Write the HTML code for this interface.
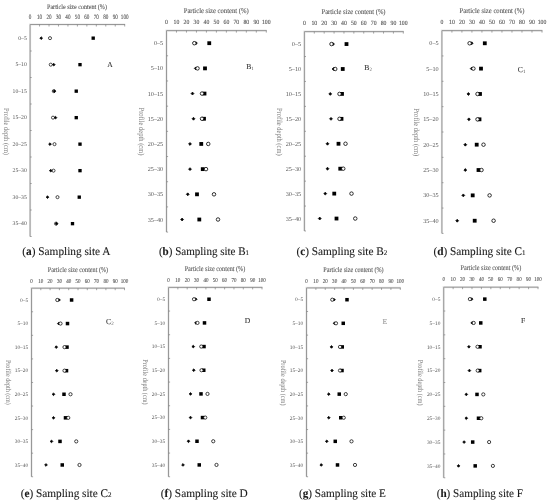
<!DOCTYPE html>
<html><head><meta charset="utf-8"><style>
html,body{margin:0;padding:0;background:#fff;}
svg{display:block;font-family:"Liberation Serif",serif;filter:grayscale(1);text-rendering:geometricPrecision;}
</style></head><body>
<svg width="550" height="504" viewBox="0 0 550 504">
<rect width="550" height="504" fill="#fff"/>
<g>
<g><path d="M30.1 236.5V24.5H125.1" fill="none" stroke="#e8e8e8" stroke-width="2.2"/><path d="M30.1 236.5V24.5H125.1" fill="none" stroke="#989898" stroke-width="1"/><path d="M39.56 24.5v2 M49.02 24.5v2 M58.48 24.5v2 M67.94 24.5v2 M77.4 24.5v2 M86.86 24.5v2 M96.32 24.5v2 M105.78 24.5v2 M115.24 24.5v2 M124.7 24.5v2 M30.1 51h1.6 M30.1 77.5h1.6 M30.1 104h1.6 M30.1 130.5h1.6 M30.1 157h1.6 M30.1 183.5h1.6 M30.1 210h1.6 M30.1 236.5h1.6" stroke="#808080" stroke-width="0.7"/><text transform="translate(30.1 19.08) scale(0.78 1)" font-size="6.6" text-anchor="middle" fill="#555" stroke="#555" stroke-width="0.12">0</text><text transform="translate(39.56 19.08) scale(0.78 1)" font-size="6.6" text-anchor="middle" fill="#555" stroke="#555" stroke-width="0.12">10</text><text transform="translate(49.02 19.08) scale(0.78 1)" font-size="6.6" text-anchor="middle" fill="#555" stroke="#555" stroke-width="0.12">20</text><text transform="translate(58.48 19.08) scale(0.78 1)" font-size="6.6" text-anchor="middle" fill="#555" stroke="#555" stroke-width="0.12">30</text><text transform="translate(67.94 19.08) scale(0.78 1)" font-size="6.6" text-anchor="middle" fill="#555" stroke="#555" stroke-width="0.12">40</text><text transform="translate(77.4 19.08) scale(0.78 1)" font-size="6.6" text-anchor="middle" fill="#555" stroke="#555" stroke-width="0.12">50</text><text transform="translate(86.86 19.08) scale(0.78 1)" font-size="6.6" text-anchor="middle" fill="#555" stroke="#555" stroke-width="0.12">60</text><text transform="translate(96.32 19.08) scale(0.78 1)" font-size="6.6" text-anchor="middle" fill="#555" stroke="#555" stroke-width="0.12">70</text><text transform="translate(105.78 19.08) scale(0.78 1)" font-size="6.6" text-anchor="middle" fill="#555" stroke="#555" stroke-width="0.12">80</text><text transform="translate(115.24 19.08) scale(0.78 1)" font-size="6.6" text-anchor="middle" fill="#555" stroke="#555" stroke-width="0.12">90</text><text transform="translate(124.7 19.08) scale(0.78 1)" font-size="6.6" text-anchor="middle" fill="#555" stroke="#555" stroke-width="0.12">100</text><text x="77" y="8.87" font-size="6.9" text-anchor="middle" fill="#555" stroke="#555" stroke-width="0.1" textLength="60" lengthAdjust="spacingAndGlyphs">Particle size content (%)</text><text x="26.8" y="39.63" font-size="5.7" text-anchor="end" fill="#555">0–5</text><text x="26.8" y="66.13" font-size="5.7" text-anchor="end" fill="#555">5–10</text><text x="26.8" y="92.63" font-size="5.7" text-anchor="end" fill="#555">10–15</text><text x="26.8" y="119.13" font-size="5.7" text-anchor="end" fill="#555">15–20</text><text x="26.8" y="145.63" font-size="5.7" text-anchor="end" fill="#555">20–25</text><text x="26.8" y="172.13" font-size="5.7" text-anchor="end" fill="#555">25–30</text><text x="26.8" y="198.63" font-size="5.7" text-anchor="end" fill="#555">30–35</text><text x="26.8" y="225.13" font-size="5.7" text-anchor="end" fill="#555">35–40</text><text transform="translate(4.44 131.5) rotate(90)" font-size="7.69" text-anchor="middle" fill="#777" textLength="47" lengthAdjust="spacingAndGlyphs">Profile depth (cm)</text><text x="109.9" y="67.26" font-size="7.6" text-anchor="middle" fill="#333" stroke="#333" stroke-width="0.1">A</text><rect x="91.53" y="36.48" width="3.34" height="3.34" fill="#000"/><rect x="78.33" y="62.98" width="3.34" height="3.34" fill="#000"/><rect x="74.58" y="89.48" width="3.34" height="3.34" fill="#000"/><rect x="74.58" y="115.98" width="3.34" height="3.34" fill="#000"/><rect x="78.33" y="142.48" width="3.34" height="3.34" fill="#000"/><rect x="78.33" y="168.98" width="3.34" height="3.34" fill="#000"/><rect x="77.58" y="195.48" width="3.34" height="3.34" fill="#000"/><rect x="70.83" y="221.98" width="3.34" height="3.34" fill="#000"/><circle cx="50" cy="38.15" r="1.54" fill="#fff" stroke="#000" stroke-width="0.7"/><circle cx="50.75" cy="64.65" r="1.54" fill="#fff" stroke="#000" stroke-width="0.7"/><circle cx="53.8" cy="91.15" r="1.54" fill="#fff" stroke="#000" stroke-width="0.7"/><circle cx="53" cy="117.65" r="1.54" fill="#fff" stroke="#000" stroke-width="0.7"/><circle cx="54.5" cy="144.15" r="1.54" fill="#fff" stroke="#000" stroke-width="0.7"/><circle cx="53.5" cy="170.65" r="1.54" fill="#fff" stroke="#000" stroke-width="0.7"/><circle cx="57.5" cy="197.15" r="1.54" fill="#fff" stroke="#000" stroke-width="0.7"/><circle cx="56" cy="223.65" r="1.54" fill="#fff" stroke="#000" stroke-width="0.7"/><path d="M41.2 36.77l1.38 1.38l-1.38 1.38l-1.38-1.38z" fill="#000" stroke="#000" stroke-width="0.7" stroke-linejoin="round"/><path d="M53.75 63.27l1.38 1.38l-1.38 1.38l-1.38-1.38z" fill="#000" stroke="#000" stroke-width="0.7" stroke-linejoin="round"/><path d="M54.4 89.77l1.38 1.38l-1.38 1.38l-1.38-1.38z" fill="#000" stroke="#000" stroke-width="0.7" stroke-linejoin="round"/><path d="M55.5 116.27l1.38 1.38l-1.38 1.38l-1.38-1.38z" fill="#000" stroke="#000" stroke-width="0.7" stroke-linejoin="round"/><path d="M50 142.77l1.38 1.38l-1.38 1.38l-1.38-1.38z" fill="#000" stroke="#000" stroke-width="0.7" stroke-linejoin="round"/><path d="M50.75 169.27l1.38 1.38l-1.38 1.38l-1.38-1.38z" fill="#000" stroke="#000" stroke-width="0.7" stroke-linejoin="round"/><path d="M47.5 195.77l1.38 1.38l-1.38 1.38l-1.38-1.38z" fill="#000" stroke="#000" stroke-width="0.7" stroke-linejoin="round"/><path d="M56.5 222.27l1.38 1.38l-1.38 1.38l-1.38-1.38z" fill="#000" stroke="#000" stroke-width="0.7" stroke-linejoin="round"/><text x="22.3" y="255.3" font-size="11.6" fill="#1a1a1a" stroke="#1a1a1a" stroke-width="0.1" textLength="88.2" lengthAdjust="spacingAndGlyphs">(<tspan font-weight="bold">a</tspan>) Sampling site A</text></g>
<g><path d="M166.5 232.1V30.6H266.7" fill="none" stroke="#e8e8e8" stroke-width="2.2"/><path d="M166.5 232.1V30.6H266.7" fill="none" stroke="#989898" stroke-width="1"/><path d="M176.48 30.6v2 M186.46 30.6v2 M196.44 30.6v2 M206.42 30.6v2 M216.4 30.6v2 M226.38 30.6v2 M236.36 30.6v2 M246.34 30.6v2 M256.32 30.6v2 M266.3 30.6v2 M166.5 55.79h1.6 M166.5 80.97h1.6 M166.5 106.16h1.6 M166.5 131.35h1.6 M166.5 156.54h1.6 M166.5 181.72h1.6 M166.5 206.91h1.6 M166.5 232.1h1.6" stroke="#808080" stroke-width="0.7"/><text transform="translate(166.5 24.11) scale(0.9 1)" font-size="6.4" text-anchor="middle" fill="#555" stroke="#555" stroke-width="0.12">0</text><text transform="translate(176.48 24.11) scale(0.9 1)" font-size="6.4" text-anchor="middle" fill="#555" stroke="#555" stroke-width="0.12">10</text><text transform="translate(186.46 24.11) scale(0.9 1)" font-size="6.4" text-anchor="middle" fill="#555" stroke="#555" stroke-width="0.12">20</text><text transform="translate(196.44 24.11) scale(0.9 1)" font-size="6.4" text-anchor="middle" fill="#555" stroke="#555" stroke-width="0.12">30</text><text transform="translate(206.42 24.11) scale(0.9 1)" font-size="6.4" text-anchor="middle" fill="#555" stroke="#555" stroke-width="0.12">40</text><text transform="translate(216.4 24.11) scale(0.9 1)" font-size="6.4" text-anchor="middle" fill="#555" stroke="#555" stroke-width="0.12">50</text><text transform="translate(226.38 24.11) scale(0.9 1)" font-size="6.4" text-anchor="middle" fill="#555" stroke="#555" stroke-width="0.12">60</text><text transform="translate(236.36 24.11) scale(0.9 1)" font-size="6.4" text-anchor="middle" fill="#555" stroke="#555" stroke-width="0.12">70</text><text transform="translate(246.34 24.11) scale(0.9 1)" font-size="6.4" text-anchor="middle" fill="#555" stroke="#555" stroke-width="0.12">80</text><text transform="translate(256.32 24.11) scale(0.9 1)" font-size="6.4" text-anchor="middle" fill="#555" stroke="#555" stroke-width="0.12">90</text><text transform="translate(266.3 24.11) scale(0.9 1)" font-size="6.4" text-anchor="middle" fill="#555" stroke="#555" stroke-width="0.12">100</text><text x="216.2" y="12.89" font-size="7.3" text-anchor="middle" fill="#555" stroke="#555" stroke-width="0.1" textLength="65" lengthAdjust="spacingAndGlyphs">Particle size content (%)</text><text x="163.2" y="45.24" font-size="6.2" text-anchor="end" fill="#555">0–5</text><text x="163.2" y="70.43" font-size="6.2" text-anchor="end" fill="#555">5–10</text><text x="163.2" y="95.61" font-size="6.2" text-anchor="end" fill="#555">10–15</text><text x="163.2" y="120.8" font-size="6.2" text-anchor="end" fill="#555">15–20</text><text x="163.2" y="145.99" font-size="6.2" text-anchor="end" fill="#555">20–25</text><text x="163.2" y="171.18" font-size="6.2" text-anchor="end" fill="#555">25–30</text><text x="163.2" y="196.36" font-size="6.2" text-anchor="end" fill="#555">30–35</text><text x="163.2" y="221.55" font-size="6.2" text-anchor="end" fill="#555">35–40</text><text transform="translate(138.84 131.5) rotate(90)" font-size="7.86" text-anchor="middle" fill="#777" textLength="48" lengthAdjust="spacingAndGlyphs">Profile depth (cm)</text><text x="248.7" y="68.86" font-size="7.6" text-anchor="middle" fill="#333" stroke="#333" stroke-width="0.1">B</text><text x="251.3" y="69.81" font-size="5" fill="#555">1</text><rect x="207.35" y="41.29" width="3.8" height="3.8" fill="#000"/><rect x="203.1" y="66.48" width="3.8" height="3.8" fill="#000"/><rect x="202.6" y="91.67" width="3.8" height="3.8" fill="#000"/><rect x="202.1" y="116.86" width="3.8" height="3.8" fill="#000"/><rect x="199.35" y="142.04" width="3.8" height="3.8" fill="#000"/><rect x="200.85" y="167.23" width="3.8" height="3.8" fill="#000"/><rect x="195.1" y="192.42" width="3.8" height="3.8" fill="#000"/><rect x="197.4" y="217.61" width="3.8" height="3.8" fill="#000"/><path d="M195.9 41.74l1.45 1.45l-1.45 1.45l-1.45-1.45z" fill="#000" stroke="#000" stroke-width="0.7" stroke-linejoin="round"/><path d="M195.75 66.93l1.45 1.45l-1.45 1.45l-1.45-1.45z" fill="#000" stroke="#000" stroke-width="0.7" stroke-linejoin="round"/><path d="M192.5 92.12l1.45 1.45l-1.45 1.45l-1.45-1.45z" fill="#000" stroke="#000" stroke-width="0.7" stroke-linejoin="round"/><path d="M193.5 117.31l1.45 1.45l-1.45 1.45l-1.45-1.45z" fill="#000" stroke="#000" stroke-width="0.7" stroke-linejoin="round"/><path d="M190 142.49l1.45 1.45l-1.45 1.45l-1.45-1.45z" fill="#000" stroke="#000" stroke-width="0.7" stroke-linejoin="round"/><path d="M190 167.68l1.45 1.45l-1.45 1.45l-1.45-1.45z" fill="#000" stroke="#000" stroke-width="0.7" stroke-linejoin="round"/><path d="M187.75 192.87l1.45 1.45l-1.45 1.45l-1.45-1.45z" fill="#000" stroke="#000" stroke-width="0.7" stroke-linejoin="round"/><path d="M182.1 218.06l1.45 1.45l-1.45 1.45l-1.45-1.45z" fill="#000" stroke="#000" stroke-width="0.7" stroke-linejoin="round"/><circle cx="194.3" cy="43.19" r="1.75" fill="#fff" stroke="#000" stroke-width="0.8"/><circle cx="197.5" cy="68.38" r="1.75" fill="#fff" stroke="#000" stroke-width="0.8"/><circle cx="202" cy="93.57" r="1.75" fill="#fff" stroke="#000" stroke-width="0.8"/><circle cx="202" cy="118.76" r="1.75" fill="#fff" stroke="#000" stroke-width="0.8"/><circle cx="208.25" cy="143.94" r="1.75" fill="#fff" stroke="#000" stroke-width="0.8"/><circle cx="206" cy="169.13" r="1.75" fill="#fff" stroke="#000" stroke-width="0.8"/><circle cx="214" cy="194.32" r="1.75" fill="#fff" stroke="#000" stroke-width="0.8"/><circle cx="218" cy="219.51" r="1.75" fill="#fff" stroke="#000" stroke-width="0.8"/><text x="158.9" y="255.3" font-size="11.6" fill="#1a1a1a" stroke="#1a1a1a" stroke-width="0.1" textLength="90.1" lengthAdjust="spacingAndGlyphs">(<tspan font-weight="bold">b</tspan>) Sampling site B<tspan font-size="7.19">1</tspan></text></g>
<g><path d="M304.4 231V31.6H403.7" fill="none" stroke="#e8e8e8" stroke-width="2.2"/><path d="M304.4 231V31.6H403.7" fill="none" stroke="#989898" stroke-width="1"/><path d="M314.29 31.6v2 M324.18 31.6v2 M334.07 31.6v2 M343.96 31.6v2 M353.85 31.6v2 M363.74 31.6v2 M373.63 31.6v2 M383.52 31.6v2 M393.41 31.6v2 M403.3 31.6v2 M304.4 56.53h1.6 M304.4 81.45h1.6 M304.4 106.38h1.6 M304.4 131.3h1.6 M304.4 156.22h1.6 M304.4 181.15h1.6 M304.4 206.07h1.6 M304.4 231h1.6" stroke="#808080" stroke-width="0.7"/><text transform="translate(304.4 25.31) scale(0.9 1)" font-size="6.4" text-anchor="middle" fill="#555" stroke="#555" stroke-width="0.12">0</text><text transform="translate(314.29 25.31) scale(0.9 1)" font-size="6.4" text-anchor="middle" fill="#555" stroke="#555" stroke-width="0.12">10</text><text transform="translate(324.18 25.31) scale(0.9 1)" font-size="6.4" text-anchor="middle" fill="#555" stroke="#555" stroke-width="0.12">20</text><text transform="translate(334.07 25.31) scale(0.9 1)" font-size="6.4" text-anchor="middle" fill="#555" stroke="#555" stroke-width="0.12">30</text><text transform="translate(343.96 25.31) scale(0.9 1)" font-size="6.4" text-anchor="middle" fill="#555" stroke="#555" stroke-width="0.12">40</text><text transform="translate(353.85 25.31) scale(0.9 1)" font-size="6.4" text-anchor="middle" fill="#555" stroke="#555" stroke-width="0.12">50</text><text transform="translate(363.74 25.31) scale(0.9 1)" font-size="6.4" text-anchor="middle" fill="#555" stroke="#555" stroke-width="0.12">60</text><text transform="translate(373.63 25.31) scale(0.9 1)" font-size="6.4" text-anchor="middle" fill="#555" stroke="#555" stroke-width="0.12">70</text><text transform="translate(383.52 25.31) scale(0.9 1)" font-size="6.4" text-anchor="middle" fill="#555" stroke="#555" stroke-width="0.12">80</text><text transform="translate(393.41 25.31) scale(0.9 1)" font-size="6.4" text-anchor="middle" fill="#555" stroke="#555" stroke-width="0.12">90</text><text transform="translate(403.3 25.31) scale(0.9 1)" font-size="6.4" text-anchor="middle" fill="#555" stroke="#555" stroke-width="0.12">100</text><text x="353.5" y="14.09" font-size="7.3" text-anchor="middle" fill="#555" stroke="#555" stroke-width="0.1" textLength="64" lengthAdjust="spacingAndGlyphs">Particle size content (%)</text><text x="301.1" y="46.11" font-size="6.2" text-anchor="end" fill="#555">0–5</text><text x="301.1" y="71.03" font-size="6.2" text-anchor="end" fill="#555">5–10</text><text x="301.1" y="95.96" font-size="6.2" text-anchor="end" fill="#555">10–15</text><text x="301.1" y="120.88" font-size="6.2" text-anchor="end" fill="#555">15–20</text><text x="301.1" y="145.81" font-size="6.2" text-anchor="end" fill="#555">20–25</text><text x="301.1" y="170.73" font-size="6.2" text-anchor="end" fill="#555">25–30</text><text x="301.1" y="195.66" font-size="6.2" text-anchor="end" fill="#555">30–35</text><text x="301.1" y="220.58" font-size="6.2" text-anchor="end" fill="#555">35–40</text><text transform="translate(277.16 131.8) rotate(90)" font-size="7.79" text-anchor="middle" fill="#777" textLength="47.6" lengthAdjust="spacingAndGlyphs">Profile depth (cm)</text><text x="366.8" y="70.46" font-size="7.6" text-anchor="middle" fill="#333" stroke="#333" stroke-width="0.1">B</text><text x="369.4" y="71.41" font-size="5" fill="#555">2</text><rect x="344.6" y="42.16" width="3.8" height="3.8" fill="#000"/><rect x="340.85" y="67.09" width="3.8" height="3.8" fill="#000"/><rect x="340.1" y="92.01" width="3.8" height="3.8" fill="#000"/><rect x="339.6" y="116.94" width="3.8" height="3.8" fill="#000"/><rect x="336.6" y="141.86" width="3.8" height="3.8" fill="#000"/><rect x="338.35" y="166.79" width="3.8" height="3.8" fill="#000"/><rect x="332.35" y="191.71" width="3.8" height="3.8" fill="#000"/><rect x="334.6" y="216.64" width="3.8" height="3.8" fill="#000"/><path d="M333 42.61l1.45 1.45l-1.45 1.45l-1.45-1.45z" fill="#000" stroke="#000" stroke-width="0.7" stroke-linejoin="round"/><path d="M333.5 67.54l1.45 1.45l-1.45 1.45l-1.45-1.45z" fill="#000" stroke="#000" stroke-width="0.7" stroke-linejoin="round"/><path d="M330.25 92.46l1.45 1.45l-1.45 1.45l-1.45-1.45z" fill="#000" stroke="#000" stroke-width="0.7" stroke-linejoin="round"/><path d="M331 117.39l1.45 1.45l-1.45 1.45l-1.45-1.45z" fill="#000" stroke="#000" stroke-width="0.7" stroke-linejoin="round"/><path d="M327.5 142.31l1.45 1.45l-1.45 1.45l-1.45-1.45z" fill="#000" stroke="#000" stroke-width="0.7" stroke-linejoin="round"/><path d="M327.5 167.24l1.45 1.45l-1.45 1.45l-1.45-1.45z" fill="#000" stroke="#000" stroke-width="0.7" stroke-linejoin="round"/><path d="M325.25 192.16l1.45 1.45l-1.45 1.45l-1.45-1.45z" fill="#000" stroke="#000" stroke-width="0.7" stroke-linejoin="round"/><path d="M319.75 217.09l1.45 1.45l-1.45 1.45l-1.45-1.45z" fill="#000" stroke="#000" stroke-width="0.7" stroke-linejoin="round"/><circle cx="331.5" cy="44.06" r="1.75" fill="#fff" stroke="#000" stroke-width="0.8"/><circle cx="335.25" cy="68.99" r="1.75" fill="#fff" stroke="#000" stroke-width="0.8"/><circle cx="339.5" cy="93.91" r="1.75" fill="#fff" stroke="#000" stroke-width="0.8"/><circle cx="339.5" cy="118.84" r="1.75" fill="#fff" stroke="#000" stroke-width="0.8"/><circle cx="345.5" cy="143.76" r="1.75" fill="#fff" stroke="#000" stroke-width="0.8"/><circle cx="343.25" cy="168.69" r="1.75" fill="#fff" stroke="#000" stroke-width="0.8"/><circle cx="351.5" cy="193.61" r="1.75" fill="#fff" stroke="#000" stroke-width="0.8"/><circle cx="355.25" cy="218.54" r="1.75" fill="#fff" stroke="#000" stroke-width="0.8"/><text x="296.4" y="255.3" font-size="11.6" fill="#1a1a1a" stroke="#1a1a1a" stroke-width="0.1" textLength="90.9" lengthAdjust="spacingAndGlyphs">(<tspan font-weight="bold">c</tspan>) Sampling site B<tspan font-size="7.19">2</tspan></text></g>
<g><path d="M441.9 233.4V30.6H542.4" fill="none" stroke="#e8e8e8" stroke-width="2.2"/><path d="M441.9 233.4V30.6H542.4" fill="none" stroke="#989898" stroke-width="1"/><path d="M451.91 30.6v2 M461.92 30.6v2 M471.93 30.6v2 M481.94 30.6v2 M491.95 30.6v2 M501.96 30.6v2 M511.97 30.6v2 M521.98 30.6v2 M531.99 30.6v2 M542 30.6v2 M441.9 55.95h1.6 M441.9 81.3h1.6 M441.9 106.65h1.6 M441.9 132h1.6 M441.9 157.35h1.6 M441.9 182.7h1.6 M441.9 208.05h1.6 M441.9 233.4h1.6" stroke="#808080" stroke-width="0.7"/><text transform="translate(441.9 24.11) scale(0.9 1)" font-size="6.4" text-anchor="middle" fill="#555" stroke="#555" stroke-width="0.12">0</text><text transform="translate(451.91 24.11) scale(0.9 1)" font-size="6.4" text-anchor="middle" fill="#555" stroke="#555" stroke-width="0.12">10</text><text transform="translate(461.92 24.11) scale(0.9 1)" font-size="6.4" text-anchor="middle" fill="#555" stroke="#555" stroke-width="0.12">20</text><text transform="translate(471.93 24.11) scale(0.9 1)" font-size="6.4" text-anchor="middle" fill="#555" stroke="#555" stroke-width="0.12">30</text><text transform="translate(481.94 24.11) scale(0.9 1)" font-size="6.4" text-anchor="middle" fill="#555" stroke="#555" stroke-width="0.12">40</text><text transform="translate(491.95 24.11) scale(0.9 1)" font-size="6.4" text-anchor="middle" fill="#555" stroke="#555" stroke-width="0.12">50</text><text transform="translate(501.96 24.11) scale(0.9 1)" font-size="6.4" text-anchor="middle" fill="#555" stroke="#555" stroke-width="0.12">60</text><text transform="translate(511.97 24.11) scale(0.9 1)" font-size="6.4" text-anchor="middle" fill="#555" stroke="#555" stroke-width="0.12">70</text><text transform="translate(521.98 24.11) scale(0.9 1)" font-size="6.4" text-anchor="middle" fill="#555" stroke="#555" stroke-width="0.12">80</text><text transform="translate(531.99 24.11) scale(0.9 1)" font-size="6.4" text-anchor="middle" fill="#555" stroke="#555" stroke-width="0.12">90</text><text transform="translate(542 24.11) scale(0.9 1)" font-size="6.4" text-anchor="middle" fill="#555" stroke="#555" stroke-width="0.12">100</text><text x="492" y="12.89" font-size="7.3" text-anchor="middle" fill="#555" stroke="#555" stroke-width="0.1" textLength="65" lengthAdjust="spacingAndGlyphs">Particle size content (%)</text><text x="438.6" y="45.32" font-size="6.2" text-anchor="end" fill="#555">0–5</text><text x="438.6" y="70.67" font-size="6.2" text-anchor="end" fill="#555">5–10</text><text x="438.6" y="96.02" font-size="6.2" text-anchor="end" fill="#555">10–15</text><text x="438.6" y="121.37" font-size="6.2" text-anchor="end" fill="#555">15–20</text><text x="438.6" y="146.72" font-size="6.2" text-anchor="end" fill="#555">20–25</text><text x="438.6" y="172.07" font-size="6.2" text-anchor="end" fill="#555">25–30</text><text x="438.6" y="197.42" font-size="6.2" text-anchor="end" fill="#555">30–35</text><text x="438.6" y="222.77" font-size="6.2" text-anchor="end" fill="#555">35–40</text><text transform="translate(414.24 132.3) rotate(90)" font-size="7.86" text-anchor="middle" fill="#777" textLength="48" lengthAdjust="spacingAndGlyphs">Profile depth (cm)</text><text x="520.3" y="72.26" font-size="7.6" text-anchor="middle" fill="#333" stroke="#333" stroke-width="0.1">C</text><text x="522.9" y="73.21" font-size="5" fill="#555">1</text><rect x="482.9" y="41.38" width="3.8" height="3.8" fill="#000"/><rect x="479.1" y="66.72" width="3.8" height="3.8" fill="#000"/><rect x="478.1" y="92.07" width="3.8" height="3.8" fill="#000"/><rect x="477.6" y="117.43" width="3.8" height="3.8" fill="#000"/><rect x="474.8" y="142.78" width="3.8" height="3.8" fill="#000"/><rect x="476.6" y="168.12" width="3.8" height="3.8" fill="#000"/><rect x="470.8" y="193.47" width="3.8" height="3.8" fill="#000"/><rect x="472.8" y="218.82" width="3.8" height="3.8" fill="#000"/><path d="M471.7 41.83l1.45 1.45l-1.45 1.45l-1.45-1.45z" fill="#000" stroke="#000" stroke-width="0.7" stroke-linejoin="round"/><path d="M471.7 67.17l1.45 1.45l-1.45 1.45l-1.45-1.45z" fill="#000" stroke="#000" stroke-width="0.7" stroke-linejoin="round"/><path d="M468.4 92.52l1.45 1.45l-1.45 1.45l-1.45-1.45z" fill="#000" stroke="#000" stroke-width="0.7" stroke-linejoin="round"/><path d="M468.9 117.88l1.45 1.45l-1.45 1.45l-1.45-1.45z" fill="#000" stroke="#000" stroke-width="0.7" stroke-linejoin="round"/><path d="M465.3 143.23l1.45 1.45l-1.45 1.45l-1.45-1.45z" fill="#000" stroke="#000" stroke-width="0.7" stroke-linejoin="round"/><path d="M465.3 168.58l1.45 1.45l-1.45 1.45l-1.45-1.45z" fill="#000" stroke="#000" stroke-width="0.7" stroke-linejoin="round"/><path d="M463.3 193.93l1.45 1.45l-1.45 1.45l-1.45-1.45z" fill="#000" stroke="#000" stroke-width="0.7" stroke-linejoin="round"/><path d="M457.2 219.28l1.45 1.45l-1.45 1.45l-1.45-1.45z" fill="#000" stroke="#000" stroke-width="0.7" stroke-linejoin="round"/><circle cx="469.6" cy="43.28" r="1.75" fill="#fff" stroke="#000" stroke-width="0.8"/><circle cx="473.4" cy="68.62" r="1.75" fill="#fff" stroke="#000" stroke-width="0.8"/><circle cx="477.5" cy="93.97" r="1.75" fill="#fff" stroke="#000" stroke-width="0.8"/><circle cx="477.5" cy="119.33" r="1.75" fill="#fff" stroke="#000" stroke-width="0.8"/><circle cx="483.5" cy="144.68" r="1.75" fill="#fff" stroke="#000" stroke-width="0.8"/><circle cx="481.5" cy="170.03" r="1.75" fill="#fff" stroke="#000" stroke-width="0.8"/><circle cx="489.6" cy="195.38" r="1.75" fill="#fff" stroke="#000" stroke-width="0.8"/><circle cx="493.6" cy="220.72" r="1.75" fill="#fff" stroke="#000" stroke-width="0.8"/><text x="433.4" y="255.3" font-size="11.6" fill="#1a1a1a" stroke="#1a1a1a" stroke-width="0.1" textLength="92.2" lengthAdjust="spacingAndGlyphs">(<tspan font-weight="bold">d</tspan>) Sampling site C<tspan font-size="7.19">1</tspan></text></g>
<g><path d="M31.5 476.75V288.2H124.9" fill="none" stroke="#e8e8e8" stroke-width="2.2"/><path d="M31.5 476.75V288.2H124.9" fill="none" stroke="#989898" stroke-width="1"/><path d="M40.8 288.2v2 M50.1 288.2v2 M59.4 288.2v2 M68.7 288.2v2 M78 288.2v2 M87.3 288.2v2 M96.6 288.2v2 M105.9 288.2v2 M115.2 288.2v2 M124.5 288.2v2 M31.5 311.77h1.6 M31.5 335.34h1.6 M31.5 358.91h1.6 M31.5 382.48h1.6 M31.5 406.04h1.6 M31.5 429.61h1.6 M31.5 453.18h1.6 M31.5 476.75h1.6" stroke="#808080" stroke-width="0.7"/><text transform="translate(31.5 282.98) scale(0.84 1)" font-size="6" text-anchor="middle" fill="#555" stroke="#555" stroke-width="0.12">0</text><text transform="translate(40.8 282.98) scale(0.84 1)" font-size="6" text-anchor="middle" fill="#555" stroke="#555" stroke-width="0.12">10</text><text transform="translate(50.1 282.98) scale(0.84 1)" font-size="6" text-anchor="middle" fill="#555" stroke="#555" stroke-width="0.12">20</text><text transform="translate(59.4 282.98) scale(0.84 1)" font-size="6" text-anchor="middle" fill="#555" stroke="#555" stroke-width="0.12">30</text><text transform="translate(68.7 282.98) scale(0.84 1)" font-size="6" text-anchor="middle" fill="#555" stroke="#555" stroke-width="0.12">40</text><text transform="translate(78 282.98) scale(0.84 1)" font-size="6" text-anchor="middle" fill="#555" stroke="#555" stroke-width="0.12">50</text><text transform="translate(87.3 282.98) scale(0.84 1)" font-size="6" text-anchor="middle" fill="#555" stroke="#555" stroke-width="0.12">60</text><text transform="translate(96.6 282.98) scale(0.84 1)" font-size="6" text-anchor="middle" fill="#555" stroke="#555" stroke-width="0.12">70</text><text transform="translate(105.9 282.98) scale(0.84 1)" font-size="6" text-anchor="middle" fill="#555" stroke="#555" stroke-width="0.12">80</text><text transform="translate(115.2 282.98) scale(0.84 1)" font-size="6" text-anchor="middle" fill="#555" stroke="#555" stroke-width="0.12">90</text><text transform="translate(124.5 282.98) scale(0.84 1)" font-size="6" text-anchor="middle" fill="#555" stroke="#555" stroke-width="0.12">100</text><text x="78" y="271.89" font-size="7.3" text-anchor="middle" fill="#555" stroke="#555" stroke-width="0.1" textLength="60.3" lengthAdjust="spacingAndGlyphs">Particle size content (%)</text><text x="28.2" y="301.77" font-size="5.4" text-anchor="end" fill="#555">0–5</text><text x="28.2" y="325.34" font-size="5.4" text-anchor="end" fill="#555">5–10</text><text x="28.2" y="348.9" font-size="5.4" text-anchor="end" fill="#555">10–15</text><text x="28.2" y="372.47" font-size="5.4" text-anchor="end" fill="#555">15–20</text><text x="28.2" y="396.04" font-size="5.4" text-anchor="end" fill="#555">20–25</text><text x="28.2" y="419.61" font-size="5.4" text-anchor="end" fill="#555">25–30</text><text x="28.2" y="443.18" font-size="5.4" text-anchor="end" fill="#555">30–35</text><text x="28.2" y="466.75" font-size="5.4" text-anchor="end" fill="#555">35–40</text><text transform="translate(6.09 382.4) rotate(90)" font-size="7.37" text-anchor="middle" fill="#777" textLength="45" lengthAdjust="spacingAndGlyphs">Profile depth (cm)</text><text x="108.6" y="324.16" font-size="7.6" text-anchor="middle" fill="#333" stroke="#333" stroke-width="0.1">C</text><text x="111.2" y="325.11" font-size="5" fill="#555">2</text><rect x="69.85" y="298.24" width="3.5" height="3.5" fill="#000"/><rect x="65.75" y="321.81" width="3.5" height="3.5" fill="#000"/><rect x="65.25" y="345.37" width="3.5" height="3.5" fill="#000"/><rect x="64.75" y="368.94" width="3.5" height="3.5" fill="#000"/><rect x="62.25" y="392.51" width="3.5" height="3.5" fill="#000"/><rect x="63.75" y="416.08" width="3.5" height="3.5" fill="#000"/><rect x="58.25" y="439.65" width="3.5" height="3.5" fill="#000"/><rect x="60.5" y="463.22" width="3.5" height="3.5" fill="#000"/><path d="M59 298.61l1.38 1.38l-1.38 1.38l-1.38-1.38z" fill="#000" stroke="#000" stroke-width="0.7" stroke-linejoin="round"/><path d="M58.75 322.18l1.38 1.38l-1.38 1.38l-1.38-1.38z" fill="#000" stroke="#000" stroke-width="0.7" stroke-linejoin="round"/><path d="M56.25 345.74l1.38 1.38l-1.38 1.38l-1.38-1.38z" fill="#000" stroke="#000" stroke-width="0.7" stroke-linejoin="round"/><path d="M56.75 369.31l1.38 1.38l-1.38 1.38l-1.38-1.38z" fill="#000" stroke="#000" stroke-width="0.7" stroke-linejoin="round"/><path d="M53.5 392.88l1.38 1.38l-1.38 1.38l-1.38-1.38z" fill="#000" stroke="#000" stroke-width="0.7" stroke-linejoin="round"/><path d="M53.5 416.45l1.38 1.38l-1.38 1.38l-1.38-1.38z" fill="#000" stroke="#000" stroke-width="0.7" stroke-linejoin="round"/><path d="M51.5 440.02l1.38 1.38l-1.38 1.38l-1.38-1.38z" fill="#000" stroke="#000" stroke-width="0.7" stroke-linejoin="round"/><path d="M46 463.59l1.38 1.38l-1.38 1.38l-1.38-1.38z" fill="#000" stroke="#000" stroke-width="0.7" stroke-linejoin="round"/><circle cx="57.3" cy="299.98" r="1.61" fill="#fff" stroke="#000" stroke-width="0.74"/><circle cx="60.5" cy="323.55" r="1.61" fill="#fff" stroke="#000" stroke-width="0.74"/><circle cx="64.5" cy="347.12" r="1.61" fill="#fff" stroke="#000" stroke-width="0.74"/><circle cx="64.5" cy="370.69" r="1.61" fill="#fff" stroke="#000" stroke-width="0.74"/><circle cx="70.5" cy="394.26" r="1.61" fill="#fff" stroke="#000" stroke-width="0.74"/><circle cx="68.25" cy="417.83" r="1.61" fill="#fff" stroke="#000" stroke-width="0.74"/><circle cx="76.25" cy="441.4" r="1.61" fill="#fff" stroke="#000" stroke-width="0.74"/><circle cx="79.5" cy="464.97" r="1.61" fill="#fff" stroke="#000" stroke-width="0.74"/><text x="20.7" y="497.3" font-size="11.6" fill="#1a1a1a" stroke="#1a1a1a" stroke-width="0.1" textLength="90.9" lengthAdjust="spacingAndGlyphs">(<tspan font-weight="bold">e</tspan>) Sampling site C<tspan font-size="7.19">2</tspan></text></g>
<g><path d="M168.5 476.75V287.4H262.4" fill="none" stroke="#e8e8e8" stroke-width="2.2"/><path d="M168.5 476.75V287.4H262.4" fill="none" stroke="#989898" stroke-width="1"/><path d="M177.85 287.4v2 M187.2 287.4v2 M196.55 287.4v2 M205.9 287.4v2 M215.25 287.4v2 M224.6 287.4v2 M233.95 287.4v2 M243.3 287.4v2 M252.65 287.4v2 M262 287.4v2 M168.5 311.07h1.6 M168.5 334.74h1.6 M168.5 358.41h1.6 M168.5 382.07h1.6 M168.5 405.74h1.6 M168.5 429.41h1.6 M168.5 453.08h1.6 M168.5 476.75h1.6" stroke="#808080" stroke-width="0.7"/><text transform="translate(168.5 281.88) scale(0.84 1)" font-size="6" text-anchor="middle" fill="#555" stroke="#555" stroke-width="0.12">0</text><text transform="translate(177.85 281.88) scale(0.84 1)" font-size="6" text-anchor="middle" fill="#555" stroke="#555" stroke-width="0.12">10</text><text transform="translate(187.2 281.88) scale(0.84 1)" font-size="6" text-anchor="middle" fill="#555" stroke="#555" stroke-width="0.12">20</text><text transform="translate(196.55 281.88) scale(0.84 1)" font-size="6" text-anchor="middle" fill="#555" stroke="#555" stroke-width="0.12">30</text><text transform="translate(205.9 281.88) scale(0.84 1)" font-size="6" text-anchor="middle" fill="#555" stroke="#555" stroke-width="0.12">40</text><text transform="translate(215.25 281.88) scale(0.84 1)" font-size="6" text-anchor="middle" fill="#555" stroke="#555" stroke-width="0.12">50</text><text transform="translate(224.6 281.88) scale(0.84 1)" font-size="6" text-anchor="middle" fill="#555" stroke="#555" stroke-width="0.12">60</text><text transform="translate(233.95 281.88) scale(0.84 1)" font-size="6" text-anchor="middle" fill="#555" stroke="#555" stroke-width="0.12">70</text><text transform="translate(243.3 281.88) scale(0.84 1)" font-size="6" text-anchor="middle" fill="#555" stroke="#555" stroke-width="0.12">80</text><text transform="translate(252.65 281.88) scale(0.84 1)" font-size="6" text-anchor="middle" fill="#555" stroke="#555" stroke-width="0.12">90</text><text transform="translate(262 281.88) scale(0.84 1)" font-size="6" text-anchor="middle" fill="#555" stroke="#555" stroke-width="0.12">100</text><text x="215" y="270.89" font-size="7.3" text-anchor="middle" fill="#555" stroke="#555" stroke-width="0.1" textLength="60.7" lengthAdjust="spacingAndGlyphs">Particle size content (%)</text><text x="165.2" y="301.02" font-size="5.4" text-anchor="end" fill="#555">0–5</text><text x="165.2" y="324.69" font-size="5.4" text-anchor="end" fill="#555">5–10</text><text x="165.2" y="348.35" font-size="5.4" text-anchor="end" fill="#555">10–15</text><text x="165.2" y="372.02" font-size="5.4" text-anchor="end" fill="#555">15–20</text><text x="165.2" y="395.69" font-size="5.4" text-anchor="end" fill="#555">20–25</text><text x="165.2" y="419.36" font-size="5.4" text-anchor="end" fill="#555">25–30</text><text x="165.2" y="443.03" font-size="5.4" text-anchor="end" fill="#555">30–35</text><text x="165.2" y="466.7" font-size="5.4" text-anchor="end" fill="#555">35–40</text><text transform="translate(143.08 381.9) rotate(90)" font-size="7.4" text-anchor="middle" fill="#777" textLength="45.2" lengthAdjust="spacingAndGlyphs">Profile depth (cm)</text><text x="247.4" y="323.36" font-size="7.6" text-anchor="middle" fill="#333" stroke="#333" stroke-width="0.1">D</text><rect x="207.25" y="297.49" width="3.5" height="3.5" fill="#000"/><rect x="202.75" y="321.16" width="3.5" height="3.5" fill="#000"/><rect x="202.25" y="344.82" width="3.5" height="3.5" fill="#000"/><rect x="202" y="368.49" width="3.5" height="3.5" fill="#000"/><rect x="199.25" y="392.16" width="3.5" height="3.5" fill="#000"/><rect x="200.75" y="415.83" width="3.5" height="3.5" fill="#000"/><rect x="195.25" y="439.5" width="3.5" height="3.5" fill="#000"/><rect x="197.5" y="463.17" width="3.5" height="3.5" fill="#000"/><path d="M195.75 297.86l1.38 1.38l-1.38 1.38l-1.38-1.38z" fill="#000" stroke="#000" stroke-width="0.7" stroke-linejoin="round"/><path d="M196 321.53l1.38 1.38l-1.38 1.38l-1.38-1.38z" fill="#000" stroke="#000" stroke-width="0.7" stroke-linejoin="round"/><path d="M193.25 345.19l1.38 1.38l-1.38 1.38l-1.38-1.38z" fill="#000" stroke="#000" stroke-width="0.7" stroke-linejoin="round"/><path d="M193.75 368.86l1.38 1.38l-1.38 1.38l-1.38-1.38z" fill="#000" stroke="#000" stroke-width="0.7" stroke-linejoin="round"/><path d="M190.5 392.53l1.38 1.38l-1.38 1.38l-1.38-1.38z" fill="#000" stroke="#000" stroke-width="0.7" stroke-linejoin="round"/><path d="M190.5 416.2l1.38 1.38l-1.38 1.38l-1.38-1.38z" fill="#000" stroke="#000" stroke-width="0.7" stroke-linejoin="round"/><path d="M188.5 439.87l1.38 1.38l-1.38 1.38l-1.38-1.38z" fill="#000" stroke="#000" stroke-width="0.7" stroke-linejoin="round"/><path d="M183 463.54l1.38 1.38l-1.38 1.38l-1.38-1.38z" fill="#000" stroke="#000" stroke-width="0.7" stroke-linejoin="round"/><circle cx="194" cy="299.23" r="1.61" fill="#fff" stroke="#000" stroke-width="0.74"/><circle cx="197.5" cy="322.9" r="1.61" fill="#fff" stroke="#000" stroke-width="0.74"/><circle cx="201.25" cy="346.57" r="1.61" fill="#fff" stroke="#000" stroke-width="0.74"/><circle cx="201.5" cy="370.24" r="1.61" fill="#fff" stroke="#000" stroke-width="0.74"/><circle cx="207.5" cy="393.91" r="1.61" fill="#fff" stroke="#000" stroke-width="0.74"/><circle cx="205.25" cy="417.58" r="1.61" fill="#fff" stroke="#000" stroke-width="0.74"/><circle cx="213.25" cy="441.25" r="1.61" fill="#fff" stroke="#000" stroke-width="0.74"/><circle cx="216.5" cy="464.92" r="1.61" fill="#fff" stroke="#000" stroke-width="0.74"/><text x="160.7" y="497.3" font-size="11.6" fill="#1a1a1a" stroke="#1a1a1a" stroke-width="0.1" textLength="87.1" lengthAdjust="spacingAndGlyphs">(<tspan font-weight="bold">f</tspan>) Sampling site D</text></g>
<g><path d="M306.5 476.75V287.9H400.7" fill="none" stroke="#e8e8e8" stroke-width="2.2"/><path d="M306.5 476.75V287.9H400.7" fill="none" stroke="#989898" stroke-width="1"/><path d="M315.88 287.9v2 M325.26 287.9v2 M334.64 287.9v2 M344.02 287.9v2 M353.4 287.9v2 M362.78 287.9v2 M372.16 287.9v2 M381.54 287.9v2 M390.92 287.9v2 M400.3 287.9v2 M306.5 311.51h1.6 M306.5 335.11h1.6 M306.5 358.72h1.6 M306.5 382.32h1.6 M306.5 405.93h1.6 M306.5 429.54h1.6 M306.5 453.14h1.6 M306.5 476.75h1.6" stroke="#808080" stroke-width="0.7"/><text transform="translate(306.5 282.98) scale(0.84 1)" font-size="6" text-anchor="middle" fill="#555" stroke="#555" stroke-width="0.12">0</text><text transform="translate(315.88 282.98) scale(0.84 1)" font-size="6" text-anchor="middle" fill="#555" stroke="#555" stroke-width="0.12">10</text><text transform="translate(325.26 282.98) scale(0.84 1)" font-size="6" text-anchor="middle" fill="#555" stroke="#555" stroke-width="0.12">20</text><text transform="translate(334.64 282.98) scale(0.84 1)" font-size="6" text-anchor="middle" fill="#555" stroke="#555" stroke-width="0.12">30</text><text transform="translate(344.02 282.98) scale(0.84 1)" font-size="6" text-anchor="middle" fill="#555" stroke="#555" stroke-width="0.12">40</text><text transform="translate(353.4 282.98) scale(0.84 1)" font-size="6" text-anchor="middle" fill="#555" stroke="#555" stroke-width="0.12">50</text><text transform="translate(362.78 282.98) scale(0.84 1)" font-size="6" text-anchor="middle" fill="#555" stroke="#555" stroke-width="0.12">60</text><text transform="translate(372.16 282.98) scale(0.84 1)" font-size="6" text-anchor="middle" fill="#555" stroke="#555" stroke-width="0.12">70</text><text transform="translate(381.54 282.98) scale(0.84 1)" font-size="6" text-anchor="middle" fill="#555" stroke="#555" stroke-width="0.12">80</text><text transform="translate(390.92 282.98) scale(0.84 1)" font-size="6" text-anchor="middle" fill="#555" stroke="#555" stroke-width="0.12">90</text><text transform="translate(400.3 282.98) scale(0.84 1)" font-size="6" text-anchor="middle" fill="#555" stroke="#555" stroke-width="0.12">100</text><text x="353.5" y="271.89" font-size="7.3" text-anchor="middle" fill="#555" stroke="#555" stroke-width="0.1" textLength="60.3" lengthAdjust="spacingAndGlyphs">Particle size content (%)</text><text x="303.2" y="301.49" font-size="5.4" text-anchor="end" fill="#555">0–5</text><text x="303.2" y="325.09" font-size="5.4" text-anchor="end" fill="#555">5–10</text><text x="303.2" y="348.7" font-size="5.4" text-anchor="end" fill="#555">10–15</text><text x="303.2" y="372.3" font-size="5.4" text-anchor="end" fill="#555">15–20</text><text x="303.2" y="395.91" font-size="5.4" text-anchor="end" fill="#555">20–25</text><text x="303.2" y="419.52" font-size="5.4" text-anchor="end" fill="#555">25–30</text><text x="303.2" y="443.12" font-size="5.4" text-anchor="end" fill="#555">30–35</text><text x="303.2" y="466.73" font-size="5.4" text-anchor="end" fill="#555">35–40</text><text transform="translate(281.16 382.7) rotate(90)" font-size="7.47" text-anchor="middle" fill="#777" textLength="45.6" lengthAdjust="spacingAndGlyphs">Profile depth (cm)</text><text x="384.8" y="324.26" font-size="7.6" text-anchor="middle" fill="#999" stroke="#999" stroke-width="0.1">E</text><rect x="345.25" y="297.96" width="3.5" height="3.5" fill="#000"/><rect x="341.5" y="321.56" width="3.5" height="3.5" fill="#000"/><rect x="340.5" y="345.17" width="3.5" height="3.5" fill="#000"/><rect x="340.25" y="368.77" width="3.5" height="3.5" fill="#000"/><rect x="337.5" y="392.38" width="3.5" height="3.5" fill="#000"/><rect x="339" y="415.99" width="3.5" height="3.5" fill="#000"/><rect x="333.5" y="439.59" width="3.5" height="3.5" fill="#000"/><rect x="335.75" y="463.2" width="3.5" height="3.5" fill="#000"/><path d="M334 298.33l1.38 1.38l-1.38 1.38l-1.38-1.38z" fill="#000" stroke="#000" stroke-width="0.7" stroke-linejoin="round"/><path d="M334.5 321.93l1.38 1.38l-1.38 1.38l-1.38-1.38z" fill="#000" stroke="#000" stroke-width="0.7" stroke-linejoin="round"/><path d="M331.5 345.54l1.38 1.38l-1.38 1.38l-1.38-1.38z" fill="#000" stroke="#000" stroke-width="0.7" stroke-linejoin="round"/><path d="M332 369.14l1.38 1.38l-1.38 1.38l-1.38-1.38z" fill="#000" stroke="#000" stroke-width="0.7" stroke-linejoin="round"/><path d="M328.75 392.75l1.38 1.38l-1.38 1.38l-1.38-1.38z" fill="#000" stroke="#000" stroke-width="0.7" stroke-linejoin="round"/><path d="M328.75 416.36l1.38 1.38l-1.38 1.38l-1.38-1.38z" fill="#000" stroke="#000" stroke-width="0.7" stroke-linejoin="round"/><path d="M326.75 439.96l1.38 1.38l-1.38 1.38l-1.38-1.38z" fill="#000" stroke="#000" stroke-width="0.7" stroke-linejoin="round"/><path d="M321.25 463.57l1.38 1.38l-1.38 1.38l-1.38-1.38z" fill="#000" stroke="#000" stroke-width="0.7" stroke-linejoin="round"/><circle cx="332.25" cy="299.7" r="1.61" fill="#fff" stroke="#000" stroke-width="0.74"/><circle cx="336" cy="323.31" r="1.61" fill="#fff" stroke="#000" stroke-width="0.74"/><circle cx="340" cy="346.92" r="1.61" fill="#fff" stroke="#000" stroke-width="0.74"/><circle cx="340" cy="370.52" r="1.61" fill="#fff" stroke="#000" stroke-width="0.74"/><circle cx="345.75" cy="394.13" r="1.61" fill="#fff" stroke="#000" stroke-width="0.74"/><circle cx="343.75" cy="417.73" r="1.61" fill="#fff" stroke="#000" stroke-width="0.74"/><circle cx="351.5" cy="441.34" r="1.61" fill="#fff" stroke="#000" stroke-width="0.74"/><circle cx="355" cy="464.95" r="1.61" fill="#fff" stroke="#000" stroke-width="0.74"/><text x="298.9" y="497.3" font-size="11.6" fill="#1a1a1a" stroke="#1a1a1a" stroke-width="0.1" textLength="87.1" lengthAdjust="spacingAndGlyphs">(<tspan font-weight="bold">g</tspan>) Sampling site E</text></g>
<g><path d="M443.7 477.8V287.2H538.4" fill="none" stroke="#e8e8e8" stroke-width="2.2"/><path d="M443.7 477.8V287.2H538.4" fill="none" stroke="#989898" stroke-width="1"/><path d="M453.13 287.2v2 M462.56 287.2v2 M471.99 287.2v2 M481.42 287.2v2 M490.85 287.2v2 M500.28 287.2v2 M509.71 287.2v2 M519.14 287.2v2 M528.57 287.2v2 M538 287.2v2 M443.7 311.02h1.6 M443.7 334.85h1.6 M443.7 358.68h1.6 M443.7 382.5h1.6 M443.7 406.32h1.6 M443.7 430.15h1.6 M443.7 453.98h1.6 M443.7 477.8h1.6" stroke="#808080" stroke-width="0.7"/><text transform="translate(443.7 281.48) scale(0.84 1)" font-size="6" text-anchor="middle" fill="#555" stroke="#555" stroke-width="0.12">0</text><text transform="translate(453.13 281.48) scale(0.84 1)" font-size="6" text-anchor="middle" fill="#555" stroke="#555" stroke-width="0.12">10</text><text transform="translate(462.56 281.48) scale(0.84 1)" font-size="6" text-anchor="middle" fill="#555" stroke="#555" stroke-width="0.12">20</text><text transform="translate(471.99 281.48) scale(0.84 1)" font-size="6" text-anchor="middle" fill="#555" stroke="#555" stroke-width="0.12">30</text><text transform="translate(481.42 281.48) scale(0.84 1)" font-size="6" text-anchor="middle" fill="#555" stroke="#555" stroke-width="0.12">40</text><text transform="translate(490.85 281.48) scale(0.84 1)" font-size="6" text-anchor="middle" fill="#555" stroke="#555" stroke-width="0.12">50</text><text transform="translate(500.28 281.48) scale(0.84 1)" font-size="6" text-anchor="middle" fill="#555" stroke="#555" stroke-width="0.12">60</text><text transform="translate(509.71 281.48) scale(0.84 1)" font-size="6" text-anchor="middle" fill="#555" stroke="#555" stroke-width="0.12">70</text><text transform="translate(519.14 281.48) scale(0.84 1)" font-size="6" text-anchor="middle" fill="#555" stroke="#555" stroke-width="0.12">80</text><text transform="translate(528.57 281.48) scale(0.84 1)" font-size="6" text-anchor="middle" fill="#555" stroke="#555" stroke-width="0.12">90</text><text transform="translate(538 281.48) scale(0.84 1)" font-size="6" text-anchor="middle" fill="#555" stroke="#555" stroke-width="0.12">100</text><text x="490.9" y="270.29" font-size="7.3" text-anchor="middle" fill="#555" stroke="#555" stroke-width="0.1" textLength="60.8" lengthAdjust="spacingAndGlyphs">Particle size content (%)</text><text x="440.4" y="300.89" font-size="5.4" text-anchor="end" fill="#555">0–5</text><text x="440.4" y="324.72" font-size="5.4" text-anchor="end" fill="#555">5–10</text><text x="440.4" y="348.54" font-size="5.4" text-anchor="end" fill="#555">10–15</text><text x="440.4" y="372.37" font-size="5.4" text-anchor="end" fill="#555">15–20</text><text x="440.4" y="396.19" font-size="5.4" text-anchor="end" fill="#555">20–25</text><text x="440.4" y="420.02" font-size="5.4" text-anchor="end" fill="#555">25–30</text><text x="440.4" y="443.84" font-size="5.4" text-anchor="end" fill="#555">30–35</text><text x="440.4" y="467.67" font-size="5.4" text-anchor="end" fill="#555">35–40</text><text transform="translate(418.15 382.6) rotate(90)" font-size="7.5" text-anchor="middle" fill="#777" textLength="45.8" lengthAdjust="spacingAndGlyphs">Profile depth (cm)</text><text x="523" y="323.16" font-size="7.6" text-anchor="middle" fill="#333" stroke="#333" stroke-width="0.1">F</text><rect x="483.05" y="297.36" width="3.5" height="3.5" fill="#000"/><rect x="479" y="321.19" width="3.5" height="3.5" fill="#000"/><rect x="478.25" y="345.01" width="3.5" height="3.5" fill="#000"/><rect x="477.95" y="368.84" width="3.5" height="3.5" fill="#000"/><rect x="475.25" y="392.66" width="3.5" height="3.5" fill="#000"/><rect x="476.75" y="416.49" width="3.5" height="3.5" fill="#000"/><rect x="470.95" y="440.31" width="3.5" height="3.5" fill="#000"/><rect x="473.45" y="464.14" width="3.5" height="3.5" fill="#000"/><path d="M471.65 297.74l1.38 1.38l-1.38 1.38l-1.38-1.38z" fill="#000" stroke="#000" stroke-width="0.7" stroke-linejoin="round"/><path d="M472.2 321.56l1.38 1.38l-1.38 1.38l-1.38-1.38z" fill="#000" stroke="#000" stroke-width="0.7" stroke-linejoin="round"/><path d="M468.9 345.38l1.38 1.38l-1.38 1.38l-1.38-1.38z" fill="#000" stroke="#000" stroke-width="0.7" stroke-linejoin="round"/><path d="M469.4 369.21l1.38 1.38l-1.38 1.38l-1.38-1.38z" fill="#000" stroke="#000" stroke-width="0.7" stroke-linejoin="round"/><path d="M466.3 393.04l1.38 1.38l-1.38 1.38l-1.38-1.38z" fill="#000" stroke="#000" stroke-width="0.7" stroke-linejoin="round"/><path d="M466.3 416.86l1.38 1.38l-1.38 1.38l-1.38-1.38z" fill="#000" stroke="#000" stroke-width="0.7" stroke-linejoin="round"/><path d="M464.1 440.69l1.38 1.38l-1.38 1.38l-1.38-1.38z" fill="#000" stroke="#000" stroke-width="0.7" stroke-linejoin="round"/><path d="M458.5 464.51l1.38 1.38l-1.38 1.38l-1.38-1.38z" fill="#000" stroke="#000" stroke-width="0.7" stroke-linejoin="round"/><circle cx="469.9" cy="299.11" r="1.61" fill="#fff" stroke="#000" stroke-width="0.74"/><circle cx="473.7" cy="322.94" r="1.61" fill="#fff" stroke="#000" stroke-width="0.74"/><circle cx="477.5" cy="346.76" r="1.61" fill="#fff" stroke="#000" stroke-width="0.74"/><circle cx="477.7" cy="370.59" r="1.61" fill="#fff" stroke="#000" stroke-width="0.74"/><circle cx="483.3" cy="394.41" r="1.61" fill="#fff" stroke="#000" stroke-width="0.74"/><circle cx="481.3" cy="418.24" r="1.61" fill="#fff" stroke="#000" stroke-width="0.74"/><circle cx="489.1" cy="442.06" r="1.61" fill="#fff" stroke="#000" stroke-width="0.74"/><circle cx="492.9" cy="465.89" r="1.61" fill="#fff" stroke="#000" stroke-width="0.74"/><text x="436.7" y="497.3" font-size="11.6" fill="#1a1a1a" stroke="#1a1a1a" stroke-width="0.1" textLength="86.3" lengthAdjust="spacingAndGlyphs">(<tspan font-weight="bold">h</tspan>) Sampling site F</text></g>
</g>
</svg>
</body></html>
